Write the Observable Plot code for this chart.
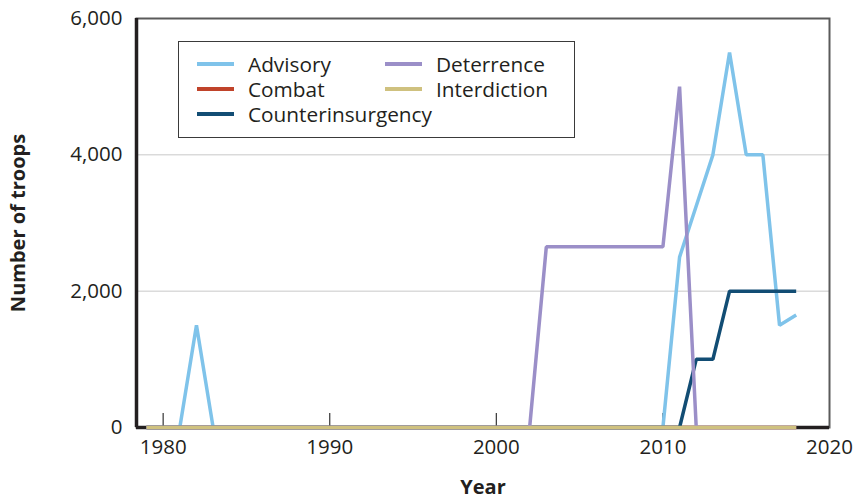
<!DOCTYPE html>
<html>
<head>
<meta charset="utf-8">
<script src="https://cdn.jsdelivr.net/npm/d3@7"></script>
<script src="https://cdn.jsdelivr.net/npm/@observablehq/plot@0.6"></script>
<style>
  html, body { margin: 0; padding: 0; background: #fff; }
  #wrap { position: relative; width: 854px; height: 498px; font-family: "Open Sans", sans-serif; color: #231f20; }
  #wrap svg [aria-label="y-axis label"] text, #wrap svg [aria-label="x-axis label"] text { font-weight: bold; font-size: 20px; }
  #legend { position: absolute; left: 178px; top: 41px; width: 395px; height: 95px; border: 1.5px solid #3a3a3a; background: #fff; }
  .item { position: absolute; display: flex; align-items: center; font-size: 20.8px; line-height: 24px; height: 24px; white-space: nowrap; }
  .sw { width: 37px; height: 4px; margin-right: 14px; }
</style>
</head>
<body>
<div id="wrap"></div>
<script>
const years = d3.range(1979, 2019);
const seriesNames = ["Advisory", "Combat", "Counterinsurgency", "Deterrence", "Interdiction"];
const seriesColors = ["#7fc3ea", "#c0432a", "#124d74", "#9b8fc8", "#cfc17f"];

// values by year 1979..2018 (40 values each)
const advisory = [0,0,0,1500,0,0,0,0,0,0, 0,0,0,0,0,0,0,0,0,0, 0,0,0,0,0,0,0,0,0,0, 0,0,2500,3250,4000,5500,4000,4000,1500,1650];
const combat = [0,0,0,0,0,0,0,0,0,0, 0,0,0,0,0,0,0,0,0,0, 0,0,0,0,0,0,0,0,0,0, 0,0,0,0,0,0,0,0,0,0];
const counterinsurgency = [0,0,0,0,0,0,0,0,0,0, 0,0,0,0,0,0,0,0,0,0, 0,0,0,0,0,0,0,0,0,0, 0,0,0,1000,1000,2000,2000,2000,2000,2000];
const deterrence = [0,0,0,0,0,0,0,0,0,0, 0,0,0,0,0,0,0,0,0,0, 0,0,0,0,2650,2650,2650,2650,2650,2650, 2650,2650,5000,0,0,0,0,0,0,0];
const interdiction = [0,0,0,0,0,0,0,0,0,0, 0,0,0,0,0,0,0,0,0,0, 0,0,0,0,0,0,0,0,0,0, 0,0,0,0,0,0,0,0,0,0];

const xTicks = [1980, 1990, 2000, 2010, 2020];
const yTicks = [0, 2000, 4000, 6000];
const gridTicks = [2000, 4000];
const xDomain = [1978.4, 2020];
const yDomain = [0, 6000];

const valuesBySeries = [advisory, combat, counterinsurgency, deterrence, interdiction];
const rows = [];
seriesNames.forEach((name, i) => {
  years.forEach((yr, j) => rows.push({series: name, year: yr, troops: valuesBySeries[i][j]}));
});

const chart = Plot.plot({
  width: 854,
  height: 498,
  marginLeft: 136,
  marginRight: 25,
  marginTop: 18,
  marginBottom: 71,
  style: { fontFamily: "Open Sans, sans-serif", fontSize: "20.5px", color: "#231f20", background: "#fff" },
  x: { domain: xDomain },
  y: { domain: yDomain },
  color: { domain: seriesNames, range: seriesColors },
  marks: [
    Plot.gridY(gridTicks, { stroke: "#c8c8c8", strokeOpacity: 1, strokeWidth: 1 }),
    Plot.frame({ stroke: "#5a5a5a", strokeWidth: 2 }),
    Plot.axisX(xTicks.slice(0, 4), { tickSize: -14, tickFormat: () => "", label: null, stroke: "#333", strokeWidth: 1.2 }),
    Plot.axisX(xTicks, { tickSize: 0, tickPadding: 12, tickFormat: d => String(d), label: "Year", labelAnchor: "center", labelOffset: 66, labelArrow: "none" }),
    Plot.axisY(yTicks, { tickSize: 0, tickPadding: 14, tickFormat: d3.format(","), label: "Number of troops", labelAnchor: "center", labelOffset: 126, labelArrow: "none" }),
    Plot.ruleX([xDomain[0]], { stroke: "#231f20", strokeWidth: 3.5 }),
    Plot.ruleY([0], { stroke: "#231f20", strokeWidth: 3.5 }),
    Plot.line(rows, { x: "year", y: "troops", z: "series", stroke: "series", strokeWidth: 3.5, strokeLinejoin: "miter", strokeLinecap: "butt" })
  ]
});

const wrap = document.getElementById("wrap");
wrap.appendChild(chart);

const legend = document.createElement("div");
legend.id = "legend";
const positions = [
  [18, 22], [18, 47], [18, 72], [206, 22], [206, 47]
];
const legendOrder = ["Advisory", "Combat", "Counterinsurgency", "Deterrence", "Interdiction"];
legendOrder.forEach((name, i) => {
  const it = document.createElement("div");
  it.className = "item";
  it.style.left = positions[i][0] + "px";
  it.style.top = (positions[i][1] - 12) + "px";
  const sw = document.createElement("span");
  sw.className = "sw";
  sw.style.background = seriesColors[seriesNames.indexOf(name)];
  const tx = document.createElement("span");
  tx.textContent = name;
  it.appendChild(sw);
  it.appendChild(tx);
  legend.appendChild(it);
});
wrap.appendChild(legend);
</script>
</body>
</html>
